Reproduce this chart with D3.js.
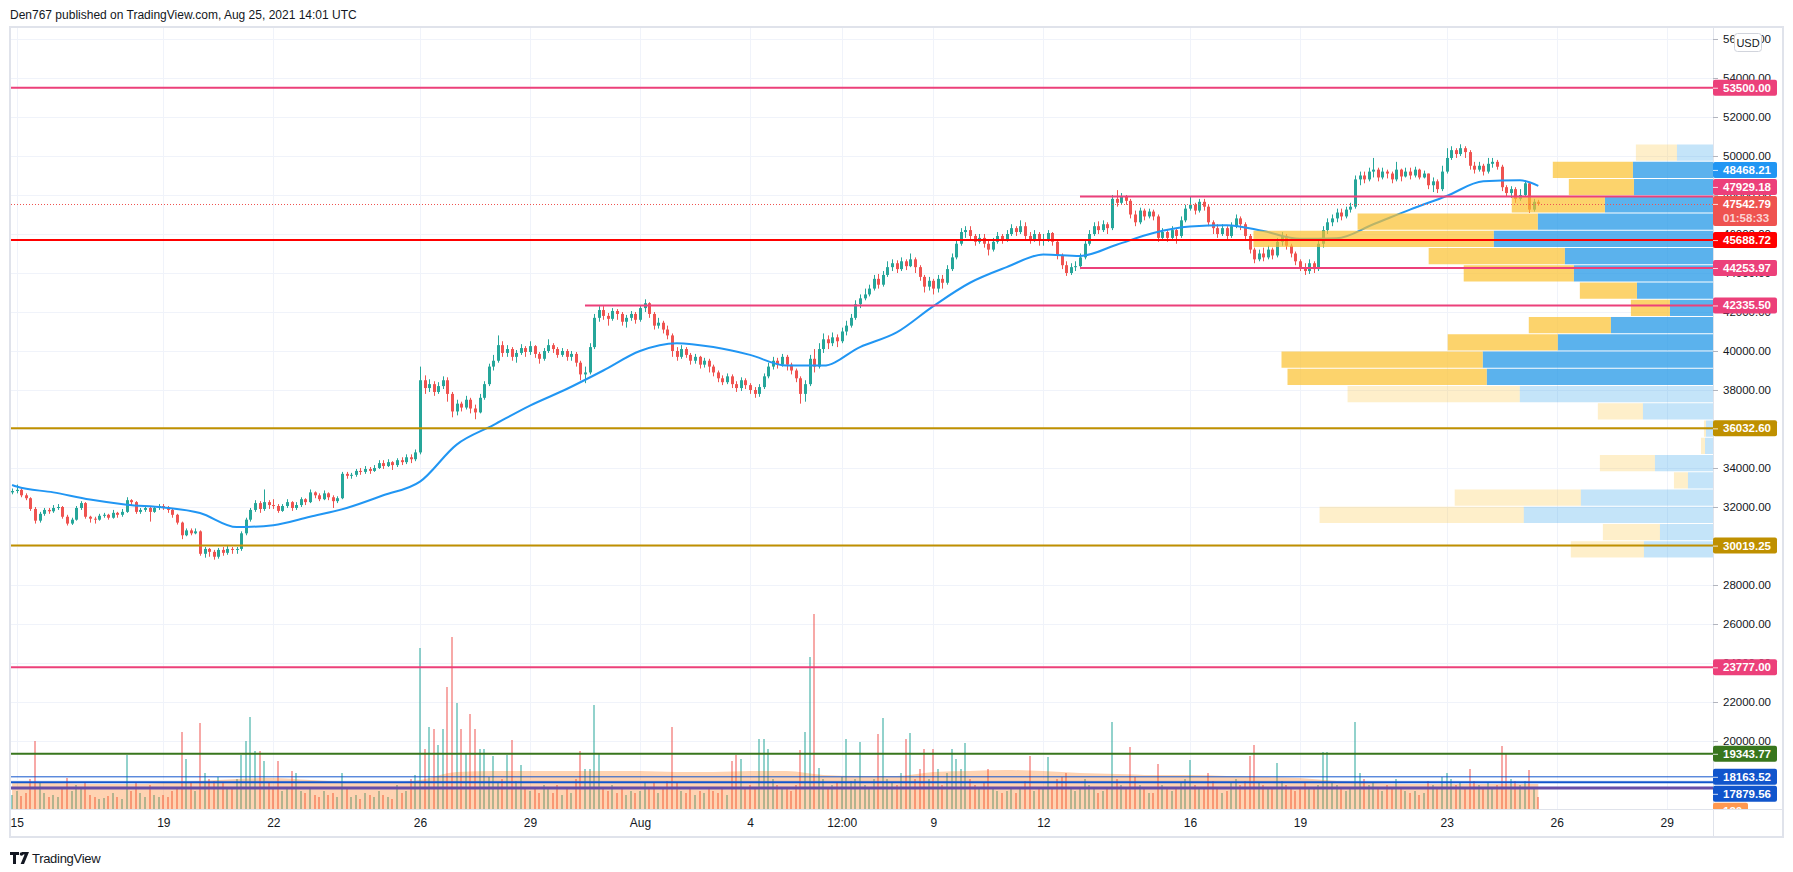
<!DOCTYPE html>
<html>
<head>
<meta charset="utf-8">
<title>BTCUSD 3h</title>
<script src="https://cdnjs.cloudflare.com/ajax/libs/d3/7.8.5/d3.min.js"></script>
<style>
  body { margin: 0; background: #ffffff; }
  text { font-family: "Liberation Sans", Arial, sans-serif; }
</style>
</head>
<body>
<div id="chart"></div>
<script>
// values, 3h candles

var firstBar = '2021-07-14T21:00:00Z';
var firstOpen = 32750;

var closes = [32820,
  32880,32600,32450,31900,31300,31650,31850,31780,
  31950,32000,31500,31150,31350,31950,32200,31500,
  31400,31350,31550,31600,31450,31700,31600,31750,
  32350,32250,31750,31850,31950,31750,31950,32050,
  32000,31850,31600,31200,30550,30800,30650,30750,
  29600,29850,29700,29450,29800,29650,29850,29800,
  29850,30650,31350,31850,32200,31900,32250,32100,
  32050,31800,32050,32250,31950,32100,32400,32250,
  32750,32600,32400,32700,32500,32300,32450,33700,
  33600,33650,33850,33800,33950,33850,34000,34250,
  34100,34300,34150,34400,34300,34550,34450,34800,
  38500,38100,38300,37900,38200,38500,37800,36900,
  37300,37100,37500,37050,36850,37600,38300,39200,
  39500,40300,39900,40100,39700,39900,40150,39950,
  40250,39850,39600,40000,40300,40100,39800,40000,
  39700,39850,39400,38800,38900,40200,41700,42100,
  41800,41650,42050,41900,41500,41700,41900,41600,
  42200,42450,41900,41300,41450,41100,40800,40000,
  39700,40100,39800,39500,39700,39300,39500,39200,
  38900,38600,38400,38700,38300,38100,38500,38250,
  38000,37800,38150,38700,39200,39500,39300,39700,
  39300,39000,38600,37800,38300,39600,39200,40100,
  40600,40400,40700,40500,41000,41300,41700,42400,
  42700,42900,43200,43700,43400,43900,44300,44500,
  44200,44600,44350,44700,44300,43800,43300,43600,
  43200,43700,43500,44200,44800,45500,46100,46200,
  45900,45600,45800,45500,45200,45600,45900,45700,
  46000,46300,46100,46400,45900,45700,46000,45650,
  45700,46050,45600,44900,44400,44000,44300,44350,
  44800,45500,46000,46400,46200,46500,46300,47800,
  47600,47900,47700,47000,46600,47200,46900,47150,
  46900,45800,46100,45800,46200,45900,46700,47300,
  47500,47200,47650,47400,46600,46300,46000,46300,
  45900,46400,46800,46500,45900,45200,44700,45000,
  44800,45200,44900,45600,45900,45400,45000,44600,
  44300,44100,44500,44200,45500,46200,46600,46800,
  47100,46900,47250,47400,48800,49000,48800,49200,
  49300,48900,49200,49100,48800,49300,48950,49200,
  49000,49300,48900,49100,48500,48700,48300,49200,
  49900,50300,50100,50400,50200,49500,49300,49500,
  49200,49600,49700,49450,48400,48100,48300,47800,
  48000,48600,47250,47650,47542.79];

var highs = [32950,
  33150,32950,32700,32500,32000,31750,31950,31950,
  32100,32150,32050,31600,31450,32050,32300,32250,
  31550,31500,31650,31700,31650,31850,31750,31900,
  32500,32400,32300,31950,32050,32000,32050,32150,
  32150,32050,31900,31650,31250,30900,30900,30900,
  30800,29950,29900,29800,29900,29950,30000,29950,
  29950,30750,31450,31950,32350,32300,32900,32350,
  32400,32150,32150,32400,32300,32250,32500,32450,
  32900,32800,32700,32850,32750,32600,32550,33800,
  33800,33750,33950,34000,34100,34050,34150,34400,
  34400,34450,34350,34500,34550,34700,34700,34950,
  39200,38750,38550,38450,38400,38700,38650,37900,
  37500,37400,37700,37600,37250,37800,38450,39350,
  39800,40800,40500,40300,40200,40050,40350,40250,
  40500,40300,39950,40150,40600,40400,40200,40150,
  40100,40000,39950,39500,39200,40400,41900,42300,
  42300,41950,42200,42150,42000,41850,42050,42000,
  42350,42650,42500,42000,41700,41550,41300,40900,
  40200,40300,40200,39900,39850,39750,39650,39600,
  39300,39000,38750,38850,38800,38450,38650,38600,
  38350,38150,38300,38850,39400,39700,39650,39850,
  39800,39400,39100,38700,38500,39800,40100,40400,
  40900,40800,40950,40850,41200,41550,41900,42600,
  42900,43200,43400,43900,43950,44100,44600,44700,
  44650,44800,44700,45000,44800,44400,43900,43800,
  43700,43900,43900,44400,45000,45700,46300,46400,
  46400,46000,46000,46000,45700,45800,46100,46000,
  46200,46500,46400,46700,46600,46100,46200,46100,
  46000,46200,46100,45700,45000,44600,44500,44600,
  45000,45700,46200,46600,46650,46700,46600,48000,
  48250,48100,48000,47800,47200,47350,47300,47300,
  47250,47000,46300,46200,46400,46300,46900,47500,
  47900,47600,47800,47800,47500,46700,46500,46500,
  46400,46600,47000,46900,46600,46000,45300,45200,
  45300,45400,45300,45800,46100,46000,45500,45100,
  44700,44500,44700,44600,45700,46400,46800,47000,
  47300,47300,47400,47600,49000,49200,49200,49400,
  49900,49400,49400,49300,49200,49700,49350,49400,
  49400,49450,49350,49250,49100,48900,48800,49500,
  50400,50500,50400,50600,50500,50300,49700,49700,
  49600,49900,49900,49800,49550,48500,48450,48400,
  48300,48750,48650,47800,47750];

var lows = [32650,
  32700,32500,32350,31800,31150,31200,31550,31650,
  31700,31850,31400,31050,31080,31300,31850,31400,
  31200,31150,31300,31450,31350,31400,31450,31500,
  31700,32050,31650,31650,31750,31250,31700,31850,
  31850,31700,31450,31100,30350,30500,30550,30600,
  29500,29400,29450,29300,29350,29500,29550,29600,
  29600,29750,30550,31250,31750,31700,31800,31900,
  31900,31700,31750,31950,31800,31850,32000,32100,
  32200,32450,32300,32350,32350,31950,32200,32400,
  33450,33450,33550,33650,33700,33700,33800,33950,
  33950,34050,33900,34050,34150,34200,34250,34350,
  34700,37800,37900,37700,37800,38050,37400,36600,
  36700,36900,37000,36800,36500,36800,37500,38200,
  39000,39400,39700,39700,39500,39400,39800,39700,
  39800,39650,39350,39500,39900,39900,39650,39700,
  39500,39500,39200,38500,38350,38800,40100,41500,
  41600,41300,41550,41600,41300,41200,41550,41400,
  41500,42000,41700,41100,41150,40900,40600,39700,
  39500,39600,39650,39300,39350,39100,39150,38900,
  38700,38400,38250,38300,38100,37900,37950,38050,
  37800,37600,37650,38050,38600,39050,39100,39200,
  39000,38800,38400,37300,37400,38200,38900,39100,
  39900,40100,40250,40200,40400,40800,41200,41600,
  42200,42600,42800,43100,43200,43300,43800,44100,
  44000,44100,44150,44300,44000,43600,43000,43100,
  42900,43000,43200,43400,44100,44700,45400,45800,
  45700,45400,45500,45300,44900,45100,45500,45500,
  45600,45900,45900,46000,45700,45500,45600,45400,
  45400,45600,45400,44700,44200,43850,43900,44100,
  44200,44700,45400,45900,46000,46100,46000,46200,
  47400,47500,47500,46800,46400,46500,46700,46800,
  46700,45600,45700,45600,45700,45500,45800,46600,
  47200,47000,47100,47200,46400,46000,45800,45900,
  45700,45800,46300,46200,45700,45000,44500,44600,
  44600,44700,44700,44800,45400,45200,44800,44400,
  44100,43900,43950,44000,44100,45300,46000,46400,
  46600,46700,46800,47100,47300,48500,48600,48700,
  48900,48700,48800,48850,48600,48700,48700,48900,
  48800,48900,48800,48850,48300,48150,48100,48200,
  49100,49800,49900,50000,49900,49300,49100,49200,
  49000,49100,49400,49300,48200,47900,47850,47600,
  47700,47900,47080,47150,47450];

var volumes = [700,
  900,650,800,1500,3400,1300,800,600,
  700,600,1100,1550,900,1200,1000,1300,
  700,600,500,550,650,800,600,500,
  2700,900,1300,800,600,1200,700,600,
  700,600,900,1100,3850,2500,1300,900,
  4300,1800,1500,1400,1600,1300,1100,1000,
  1500,2700,3400,4600,2900,2900,2400,1300,
  1100,2400,900,1000,1900,1800,900,800,
  1000,700,600,900,700,800,600,1800,
  1000,600,700,500,800,700,600,900,
  700,600,500,1200,800,900,1500,1700,
  8050,3000,4100,4000,3200,4000,6100,8600,
  5300,4000,2800,4750,4000,3000,3000,1600,
  2650,1300,1500,2700,3450,1400,2200,1100,
  900,1000,800,1200,1000,800,1200,700,
  1000,800,1500,2900,2000,2000,5200,2750,
  1100,900,1200,800,1000,700,900,800,
  900,1300,1100,1300,800,1000,1400,4100,
  1300,900,800,1000,700,900,800,1000,
  900,800,1000,700,2400,2700,2500,1000,
  1200,1000,3500,3500,3000,1500,1200,1000,
  1100,900,1200,2950,3850,7600,9750,2050,
  1500,1000,1200,1300,1600,3500,1400,1500,
  3350,1200,1000,1500,3750,4550,1500,1300,
  1200,1800,3500,3800,1500,2000,3000,1500,
  3000,2000,1200,1800,3000,2500,2000,3300,
  1500,1200,1000,1300,2000,1000,900,800,
  900,1100,800,1000,1400,2650,900,1000,
  1100,2600,1000,1500,1600,1800,1000,900,
  1000,1500,1200,1000,800,900,1000,4350,
  1500,1200,1100,3100,1600,1200,1000,800,
  800,2250,1200,1000,900,1100,1300,1500,
  2450,1200,1000,1100,1800,1400,1000,800,
  900,1300,1500,1200,1400,2650,3200,1300,
  1200,1000,1100,2300,1400,1200,1000,900,
  1000,1300,1100,1000,1200,2850,2850,1300,
  1200,1000,900,1100,4350,1800,1500,1200,
  1300,1000,900,1200,1100,1500,1000,900,
  800,900,700,800,1400,1200,1000,1600,
  1800,1500,1200,1300,1100,2000,1400,1200,
  1100,1300,1000,1200,3150,2750,1500,1400,
  1200,1400,1950,1100,600];

// moving average (blue) and volume average, one value per day, plus first and last bar
var maStart = '2021-07-15', maEnd = '2021-08-25';
var lastBar = '2021-08-25T12:00:00Z';
var emaValues = [33130,
  33050,32750,32380,32120,31980,31690,30970,31070,31500,31950,32600,33300,35200,36200,37200,38050,39000,
  40000,40400,40200,39800,39250,39250,40200,40950,42300,43500,44300,44950,44870,45450,46050,46380,46450,
  46150,45750,45780,46500,47250,47950,48700,48750,
  48468.21];
var volMaValues = [1300,
  1300,1300,1250,1250,1300,1400,1500,1550,1450,1350,1300,1450,1850,1900,1900,1900,1900,
  1900,1850,1850,1900,1900,1700,1650,1650,1850,1900,1950,1900,1800,1750,1700,1700,1650,
  1600,1550,1400,1300,1250,1250,1250,1250,
  1250];

// visible range volume profile, rows from top to bottom
var vpHigh = 50615, vpLow = 29385;
var vpUp   = [3600,8000,7900,10800,17500,21900,14800,13900,7600,4300,10200,15500,23000,22600,19300,7000,700,800,5800,2500,13200,18900,5300,6900];
var vpDown = [4100,8000,6500,9300,18000,24000,13600,11000,5700,3900,8200,11000,20100,19900,17200,4500,200,400,5500,1400,12600,20400,5700,7300];
var vpValueArea = [0,1,1,1,1,1,1,1,1,1,1,1,1,1,0,0,0,0,0,0,0,0,0,0];

// horizontal levels drawn by the author
var levelPrices = [53500, 47929.18, 45688.72, 44253.97, 42335.50, 36032.60, 30019.25, 23777.00, 19343.77, 18163.52, 17879.56, 17590];
var levelFrom = [null, '2021-08-13T00:00:00Z', null, '2021-08-13T00:00:00Z', '2021-07-30T12:00:00Z', null, null, null, null, null, null, null];

var lastPrice = 47542.79;
var countdown = '01:58:33';
var volLabel = '120';

// axes
var priceTicks = [18000,20000,22000,24000,26000,28000,30000,32000,34000,36000,38000,40000,42000,44000,46000,48000,50000,52000,54000,56000];
var timeTicks = ['2021-07-15','2021-07-19','2021-07-22','2021-07-26','2021-07-29','2021-08-01','2021-08-04','2021-08-06T12:00:00Z','2021-08-09','2021-08-12','2021-08-16','2021-08-19','2021-08-23','2021-08-26','2021-08-29'];
var timeLabels = ['15','19','22','26','29','Aug','4','12:00','9','12','16','19','23','26','29'];

// visible window
var viewStart = '2021-07-14T20:18:00Z', viewEnd = '2021-08-30T06:20:00Z';
var priceDomain = [16513, 56615];

// ---------------------------------------------------------------

var svgWidth = 1793;
var svgHeight = 872;
var plot = {left: 11, right: 1713, top: 27, bottom: 809};

var svg = d3.select('#chart')
  .append('svg')
  .attr('width', svgWidth)
  .attr('height', svgHeight)
  .style('display', 'block');

svg.append('rect').attr('width', svgWidth).attr('height', svgHeight).attr('fill', '#ffffff');

var parseT = function(s) { return new Date(s.length === 10 ? s + 'T00:00:00Z' : s); };

var x = d3.scaleTime().domain([parseT(viewStart), parseT(viewEnd)]).range([plot.left, plot.right]);
var y = d3.scaleLinear().domain(priceDomain).range([plot.bottom, plot.top]);
var yVol = d3.scaleLinear().domain([0, 10000]).range([plot.bottom, plot.bottom - 200]);

var bars = closes.map(function(c, i) {
  return {
    t: d3.utcHour.offset(parseT(firstBar), 3 * i),
    o: i ? closes[i - 1] : firstOpen,
    h: highs[i], l: lows[i], c: c, v: volumes[i]
  };
});

var maTimes = [parseT(firstBar)]
  .concat(d3.utcDay.range(parseT(maStart), d3.utcDay.offset(parseT(maEnd), 1)))
  .concat([parseT(lastBar)]);

var defs = svg.append('defs');
defs.append('clipPath').attr('id', 'plotClip')
  .append('rect').attr('x', plot.left).attr('y', plot.top)
  .attr('width', plot.right - plot.left).attr('height', plot.bottom - plot.top);
defs.append('clipPath').attr('id', 'scaleClip')
  .append('rect').attr('x', plot.right).attr('y', plot.top)
  .attr('width', 80).attr('height', plot.bottom - plot.top);

// header
svg.append('text')
  .attr('x', 10).attr('y', 19)
  .attr('fill', '#131722')
  .style('font-size', '12px')
  .text('Den767 published on TradingView.com, Aug 25, 2021 14:01 UTC');

// grid
var grid = svg.append('g').attr('clip-path', 'url(#plotClip)');
grid.selectAll('.hgrid').data(priceTicks).enter().append('line')
  .attr('x1', plot.left).attr('x2', plot.right)
  .attr('y1', d => Math.round(y(d)) + 0.5).attr('y2', d => Math.round(y(d)) + 0.5)
  .attr('stroke', '#f0f3fa');
grid.selectAll('.vgrid').data(timeTicks).enter().append('line')
  .attr('x1', d => Math.round(x(parseT(d))) + 0.5).attr('x2', d => Math.round(x(parseT(d))) + 0.5)
  .attr('y1', plot.top).attr('y2', plot.bottom)
  .attr('stroke', '#f0f3fa');

var chartGroup = svg.append('g').attr('clip-path', 'url(#plotClip)');

// volume bars
chartGroup.selectAll('.vol').data(bars).enter().append('rect')
  .attr('x', d => Math.round(x(d.t)) - 1)
  .attr('width', 2)
  .attr('y', d => yVol(d.v))
  .attr('height', d => plot.bottom - yVol(d.v))
  .attr('fill', d => d.c >= d.o ? 'rgba(38,166,154,0.5)' : 'rgba(239,83,80,0.5)');

// volume average area
var volArea = d3.area()
  .x(d => x(d.t))
  .y0(plot.bottom)
  .y1(d => yVol(d.v))
  .curve(d3.curveMonotoneX);
chartGroup.append('path')
  .datum(maTimes.map((t, i) => ({t: t, v: volMaValues[i]})))
  .attr('d', volArea)
  .attr('fill', 'rgba(255,109,0,0.3)');

// candles
chartGroup.selectAll('.wick').data(bars).enter().append('line')
  .attr('x1', d => Math.round(x(d.t)) + 0.5).attr('x2', d => Math.round(x(d.t)) + 0.5)
  .attr('y1', d => y(Math.max(d.h, d.o, d.c))).attr('y2', d => y(Math.min(d.l, d.o, d.c)))
  .attr('stroke', d => d.c >= d.o ? '#26a69a' : '#ef5350')
  .attr('stroke-width', 1);
chartGroup.selectAll('.body').data(bars).enter().append('rect')
  .attr('x', d => Math.round(x(d.t)) - 1)
  .attr('width', 3)
  .attr('y', d => y(Math.max(d.o, d.c)))
  .attr('height', d => Math.max(1, Math.abs(y(d.o) - y(d.c))))
  .attr('fill', d => d.c >= d.o ? '#26a69a' : '#ef5350');

// moving average
var maLine = d3.line().x(d => x(d.t)).y(d => y(d.v)).curve(d3.curveMonotoneX);
chartGroup.append('path')
  .datum(maTimes.map((t, i) => ({t: t, v: emaValues[i]})))
  .attr('d', maLine)
  .attr('fill', 'none')
  .attr('stroke', '#2196f3')
  .attr('stroke-width', 2);

// volume profile
var vpStep = (vpHigh - vpLow) / vpUp.length;
var vx = d3.scaleLinear()
  .domain([0, d3.max(vpUp, (u, i) => u + vpDown[i])])
  .range([0, (plot.right - plot.left) * 0.27]);
var vpRows = vpUp.map(function(u, i) {
  return {up: u, down: vpDown[i], va: vpValueArea[i], top: vpHigh - i * vpStep, bot: vpHigh - (i + 1) * vpStep};
});
var vpGroup = chartGroup.append('g');
vpGroup.selectAll('.vpUp').data(vpRows).enter().append('rect')
  .attr('x', d => plot.right - vx(d.up))
  .attr('width', d => vx(d.up))
  .attr('y', d => y(d.top) + 0.5)
  .attr('height', d => y(d.bot) - y(d.top) - 1)
  .attr('fill', d => d.va ? 'rgba(21,146,230,0.7)' : 'rgba(21,146,230,0.25)');
vpGroup.selectAll('.vpDown').data(vpRows).enter().append('rect')
  .attr('x', d => plot.right - vx(d.up + d.down))
  .attr('width', d => vx(d.down))
  .attr('y', d => y(d.top) + 0.5)
  .attr('height', d => y(d.bot) - y(d.top) - 1)
  .attr('fill', d => d.va ? 'rgba(251,192,45,0.7)' : 'rgba(251,192,45,0.25)');

// level lines
var levelLook = [
  {c: '#ec407a', w: 2}, {c: '#ec407a', w: 2}, {c: '#ff0000', w: 2}, {c: '#ec407a', w: 2},
  {c: '#ec407a', w: 2}, {c: '#bf9000', w: 2}, {c: '#bf9000', w: 2}, {c: '#ec407a', w: 2},
  {c: '#38761d', w: 2}, {c: '#1155cc', w: 1}, {c: '#1155cc', w: 2}, {c: '#674ea7', w: 3}
];
chartGroup.selectAll('.level').data(levelPrices).enter().append('line')
  .attr('x1', (d, i) => levelFrom[i] ? x(parseT(levelFrom[i])) : plot.left)
  .attr('x2', plot.right)
  .attr('y1', d => y(d)).attr('y2', d => y(d))
  .attr('stroke', (d, i) => levelLook[i].c)
  .attr('stroke-width', (d, i) => levelLook[i].w);

// last price line
chartGroup.append('line')
  .attr('x1', plot.left).attr('x2', plot.right)
  .attr('y1', Math.round(y(lastPrice)) + 0.5).attr('y2', Math.round(y(lastPrice)) + 0.5)
  .attr('stroke', '#ef5350')
  .attr('stroke-dasharray', '1,2');

// frame
svg.append('rect')
  .attr('x', 10).attr('y', 27).attr('width', 1773).attr('height', 810)
  .attr('fill', 'none').attr('stroke', '#e0e3eb').attr('stroke-width', 2);
svg.append('line')
  .attr('x1', plot.left).attr('x2', 1783).attr('y1', plot.bottom + 0.5).attr('y2', plot.bottom + 0.5)
  .attr('stroke', '#e0e3eb');
svg.append('line')
  .attr('x1', plot.right + 0.5).attr('x2', plot.right + 0.5).attr('y1', plot.top).attr('y2', 837)
  .attr('stroke', '#e0e3eb');

// price scale
var scaleGroup = svg.append('g').attr('clip-path', 'url(#scaleClip)');
var yAxis = d3.axisRight(y).tickValues(priceTicks).tickFormat(d3.format('.2f')).tickSize(5).tickPadding(5);
var yAxisG = scaleGroup.append('g')
  .attr('transform', `translate(${plot.right}, 0)`)
  .call(yAxis);
yAxisG.select('.domain').remove();
yAxisG.attr('font-family', null).attr('font-size', null);
yAxisG.selectAll('line').attr('stroke', '#b2b5be');
yAxisG.selectAll('text').attr('fill', '#131722').style('font-size', '11.5px');

// time scale
var xAxis = d3.axisBottom(x)
  .tickValues(timeTicks.map(parseT))
  .tickFormat((d, i) => timeLabels[i])
  .tickSize(0).tickPadding(9);
var xAxisG = svg.append('g')
  .attr('transform', `translate(0, ${plot.bottom})`)
  .call(xAxis);
xAxisG.select('.domain').remove();
xAxisG.attr('font-family', null).attr('font-size', null);
xAxisG.selectAll('text').attr('fill', '#131722').style('font-size', '12px');

// price tags on the scale, pushed apart like the platform does
var fmt = d3.format('.2f');
var tags = [];
levelPrices.forEach(function(p, i) {
  if (i === levelPrices.length - 1) return;
  tags.push({y: y(p), lines: [fmt(p)], color: levelLook[i].c, w: 64});
});
tags.push({y: y(emaValues[emaValues.length - 1]), lines: [fmt(emaValues[emaValues.length - 1])], color: '#2196f3', w: 64});
tags.push({y: y(lastPrice), lines: [fmt(lastPrice), countdown], color: '#ef5350', w: 64, anchor: true});
tags.push({y: yVol(volMaValues[volMaValues.length - 1]), lines: [volLabel], color: '#ff9850', w: 35});

tags.forEach(function(t) { t.h = t.lines.length > 1 ? 30 : 16; t.top = t.y - 8; });
tags.sort((a, b) => a.y - b.y);
var anchor = tags.findIndex(t => t.anchor);
for (var k = anchor - 1; k >= 0; k--) {
  var limit = tags[k + 1].top - 1;
  if (tags[k].top + tags[k].h > limit) tags[k].top = limit - tags[k].h;
}
for (var k = anchor + 1; k < tags.length; k++) {
  var minTop = tags[k - 1].top + tags[k - 1].h + 1;
  if (tags[k].top < minTop) tags[k].top = minTop;
}

var tagGroup = svg.append('g').attr('clip-path', 'url(#scaleClip)');
var tagG = tagGroup.selectAll('.tag').data(tags).enter().append('g');
tagG.append('rect')
  .attr('x', plot.right).attr('y', d => d.top)
  .attr('width', d => d.w).attr('height', d => d.h)
  .attr('rx', 2)
  .attr('fill', d => d.color);
tagG.append('line')
  .attr('x1', plot.right).attr('x2', plot.right + 5)
  .attr('y1', d => d.top + 8.5).attr('y2', d => d.top + 8.5)
  .attr('stroke', 'rgba(255,255,255,0.8)');
tagG.each(function(d) {
  var g = d3.select(this);
  d.lines.forEach(function(line, j) {
    g.append('text')
      .attr('x', plot.right + 10)
      .attr('y', d.top + 8 + j * 14)
      .attr('dy', '0.35em')
      .attr('fill', j ? 'rgba(255,255,255,0.75)' : '#ffffff')
      .style('font-size', '11.5px')
      .style('font-weight', 'bold')
      .text(line);
  });
});

// currency badge
svg.append('rect')
  .attr('x', 1734.5).attr('y', 33.5).attr('width', 27).attr('height', 18).attr('rx', 3)
  .attr('fill', '#ffffff').attr('stroke', '#d1d4dc');
svg.append('text')
  .attr('x', 1748).attr('y', 43).attr('dy', '0.35em')
  .attr('text-anchor', 'middle')
  .attr('fill', '#131722')
  .style('font-size', '11px')
  .text('USD');

// footer logo
var logo = svg.append('g').attr('fill', '#131722');
logo.append('path').attr('d', 'M10,852 h9 v3 h-3 v9 h-3 v-9 h-3 z');
logo.append('circle').attr('cx', 21.5).attr('cy', 854).attr('r', 1.8);
logo.append('path').attr('d', 'M22,852 h7 l-5,12 h-3.4 l4,-9.5 h-2.6 z');
svg.append('text')
  .attr('x', 32).attr('y', 863)
  .attr('fill', '#131722')
  .style('font-size', '13px')
  .style('letter-spacing', '-0.3px')
  .text('TradingView');
</script>
</body>
</html>
